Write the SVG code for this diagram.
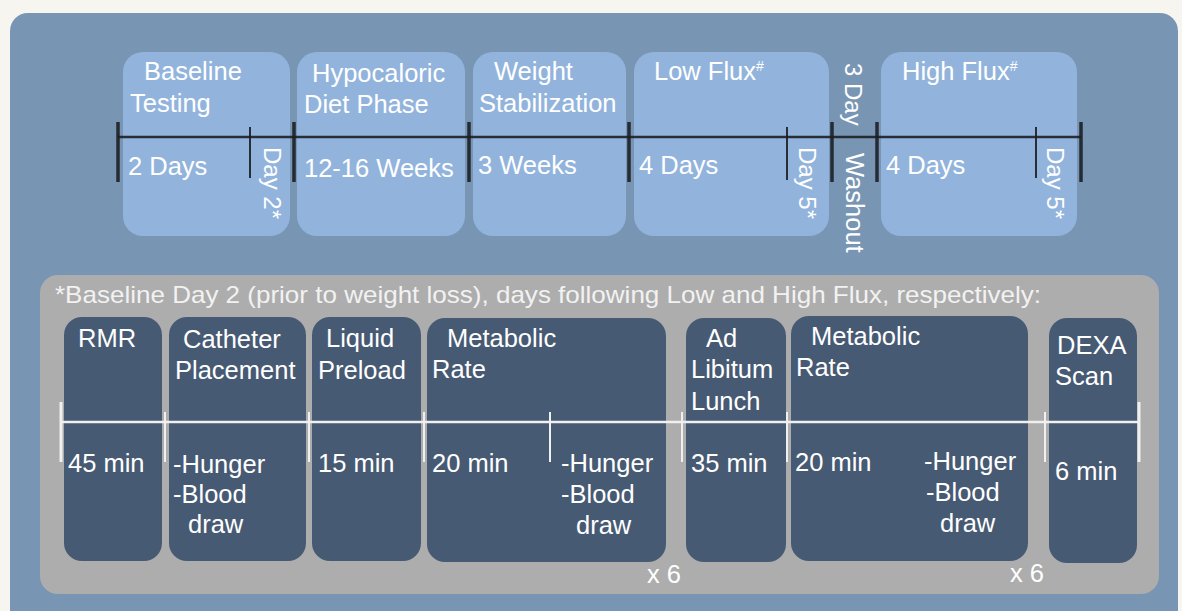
<svg xmlns="http://www.w3.org/2000/svg" width="1182" height="611" viewBox="0 0 1182 611">
<style>
.t{font-family:"Liberation Sans",Arial,sans-serif;font-size:25.5px;fill:#ffffff}
.r{font-size:24px}
.h{font-family:"Liberation Sans",Arial,sans-serif;font-size:24px;fill:#f2f2f2}
.sup{font-size:14px}
.phase{fill:#92b4dc}
.step{fill:#475a73}
.blk{stroke:#1c1f24;stroke-opacity:0.9;fill:none}
.wht{stroke:#f0f0f0;fill:none}
</style>
<rect x="0" y="0" width="1182" height="611" fill="#f7f5f0"/>
<rect id="outer" x="10" y="13" width="1168" height="620" rx="18" fill="#7896b4"/>
<rect id="panel" x="40" y="275" width="1119" height="319" rx="18" fill="#adadad"/>

<g id="baseline-testing">
<rect class="phase" x="123" y="52" width="167" height="184" rx="20"/>
<text class="t" x="144" y="80">Baseline</text>
<text class="t" x="130" y="112">Testing</text>
<text class="t" x="128" y="175">2 Days</text>
<text class="t r" transform="translate(264,147) rotate(90)">Day 2*</text>
</g>
<g id="hypocaloric">
<rect class="phase" x="297" y="52" width="168" height="184" rx="20"/>
<text class="t" x="312" y="82">Hypocaloric</text>
<text class="t" x="304" y="113">Diet Phase</text>
<text class="t" x="304" y="177">12-16 Weeks</text>
</g>
<g id="weight-stabilization">
<rect class="phase" x="473" y="52" width="153" height="184" rx="20"/>
<text class="t" x="494" y="80">Weight</text>
<text class="t" x="479" y="112">Stabilization</text>
<text class="t" x="478" y="174">3 Weeks</text>
</g>
<g id="low-flux">
<rect class="phase" x="634" y="52" width="195" height="184" rx="20"/>
<text class="t" x="654" y="80">Low Flux<tspan class="sup" dy="-9">#</tspan></text>
<text class="t" x="639" y="174">4 Days</text>
<text class="t r" transform="translate(799,147) rotate(90)">Day 5*</text>
</g>
<g id="washout">
<text class="t r" transform="translate(845,63) rotate(90)">3 Day</text>
<text class="t" transform="translate(846,153) rotate(90)">Washout</text>
</g>
<g id="high-flux">
<rect class="phase" x="881" y="52" width="196" height="184" rx="20"/>
<text class="t" x="902" y="80">High Flux<tspan class="sup" dy="-9">#</tspan></text>
<text class="t" x="886" y="174">4 Days</text>
<text class="t r" transform="translate(1047,147) rotate(90)">Day 5*</text>
</g>

<text id="footnote" class="h" x="55" y="303" textLength="986" lengthAdjust="spacingAndGlyphs">*Baseline Day 2 (prior to weight loss), days following Low and High Flux, respectively:</text>

<g id="rmr">
<rect class="step" x="64" y="317" width="98" height="244" rx="18"/>
<text class="t" x="78" y="347">RMR</text>
<text class="t" x="68" y="472">45 min</text>
</g>
<g id="catheter">
<rect class="step" x="169" y="317" width="137" height="244" rx="18"/>
<text class="t" x="183" y="348">Catheter</text>
<text class="t" x="175" y="379">Placement</text>
<text class="t" x="173" y="473">-Hunger</text>
<text class="t" x="173" y="503">-Blood</text>
<text class="t" x="188" y="533">draw</text>
</g>
<g id="liquid-preload">
<rect class="step" x="312" y="317" width="109" height="244" rx="18"/>
<text class="t" x="326" y="347">Liquid</text>
<text class="t" x="318" y="379">Preload</text>
<text class="t" x="318" y="472">15 min</text>
</g>
<g id="metabolic-1">
<rect class="step" x="427" y="318" width="239" height="244" rx="18"/>
<text class="t" x="447" y="347">Metabolic</text>
<text class="t" x="432" y="378">Rate</text>
<text class="t" x="432" y="472">20 min</text>
<text class="t" x="561" y="472">-Hunger</text>
<text class="t" x="561" y="503">-Blood</text>
<text class="t" x="576" y="534">draw</text>
<text class="t" x="647" y="583">x 6</text>
</g>
<g id="ad-libitum">
<rect class="step" x="686" y="318" width="100" height="244" rx="18"/>
<text class="t" x="706" y="347">Ad</text>
<text class="t" x="691" y="378">Libitum</text>
<text class="t" x="691" y="410">Lunch</text>
<text class="t" x="691" y="472">35 min</text>
</g>
<g id="metabolic-2">
<rect class="step" x="791" y="316" width="237" height="245" rx="18"/>
<text class="t" x="811" y="345">Metabolic</text>
<text class="t" x="796" y="376">Rate</text>
<text class="t" x="795" y="471">20 min</text>
<text class="t" x="924" y="470">-Hunger</text>
<text class="t" x="926" y="501">-Blood</text>
<text class="t" x="940" y="532">draw</text>
<text class="t" x="1010" y="582">x 6</text>
</g>
<g id="dexa">
<rect class="step" x="1049" y="318" width="88" height="245" rx="18"/>
<text class="t" x="1057" y="354">DEXA</text>
<text class="t" x="1055" y="385">Scan</text>
<text class="t" x="1055" y="480">6 min</text>
</g>

<g id="connectors">
<g class="blk">
<line x1="118" y1="137" x2="1081" y2="137" stroke-width="2.5"/>
<path d="M118 122V182M294 122V182M469 122V182M629 122V182M832 122V182M877 122V182M1081 122V182" stroke-width="3.5"/>
<path d="M250 127V178M787 127V180M1036 127V178" stroke-width="2"/>
</g>
<g class="wht">
<line x1="61" y1="422" x2="1139" y2="422" stroke-width="2.5"/>
<path d="M61 402V462M1139 402V462" stroke-width="3"/>
<path d="M165 412V462M309 412V462M424 412V462M550 412V462M682 412V462M787 412V462M1045 412V462" stroke-width="2"/>
</g>
</g>
</svg>
